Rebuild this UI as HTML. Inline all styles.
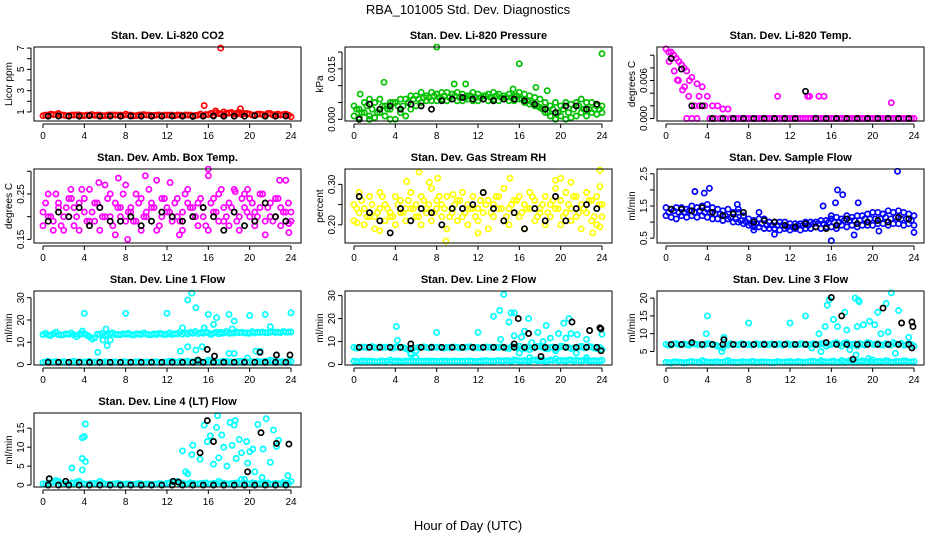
<!DOCTYPE html>
<html><head><meta charset="utf-8"><style>
body{margin:0;background:#fff}
svg{display:block;font-family:"Liberation Sans",sans-serif}
</style></head><body>
<svg id="c" width="936" height="540">
<text x="468" y="14" text-anchor="middle" font-size="13">RBA_101005  Std. Dev. Diagnostics</text>
<text x="468" y="530" text-anchor="middle" font-size="13">Hour of Day (UTC)</text>
</svg>
<script>
const HH=[0,0.5,1,1.5,2,2.5,3,3.5,4,4.5,5,5.5,6,6.5,7,7.5,8,8.5,9,9.5,10,10.5,11,11.5,12,12.5,13,13.5,14,14.5,15,15.5,16,16.5,17,17.5,18,18.5,19,19.5,20,20.5,21,21.5,22,22.5,23,23.5,24];
const HQ=[0.25,0.75,1.25,1.75,2.25,2.75,3.25,3.75,4.25,4.75,5.25,5.75,6.25,6.75,7.25,7.75,8.25,8.75,9.25,9.75,10.25,10.75,11.25,11.75,12.25,12.75,13.25,13.75,14.25,14.75,15.25,15.75,16.25,16.75,17.25,17.75,18.25,18.75,19.25,19.75,20.25,20.75,21.25,21.75,22.25,22.75,23.25,23.75];
const H24=[0.5,1.5,2.5,3.5,4.5,5.5,6.5,7.5,8.5,9.5,10.5,11.5,12.5,13.5,14.5,15.5,16.5,17.5,18.5,19.5,20.5,21.5,22.5,23.5];

const co2A=[0.65,0.7,0.75,0.85,0.7,0.65,0.7,0.72,0.65,0.7,0.68,0.7,0.65,0.72,0.7,0.7,0.8,0.7,0.65,0.72,0.7,0.68,0.7,0.65,0.7,0.7,0.72,0.66,0.7,0.65,0.7,0.68,0.75,0.7,0.85,0.75,0.9,0.8,0.95,0.85,0.8,0.7,0.8,0.7,0.85,0.75,0.7,0.8,0.55];
const co2Q=[0.7,0.8,0.75,0.7,0.65,0.7,0.72,0.68,0.7,0.75,0.7,0.65,0.7,0.72,0.7,0.68,0.7,0.65,0.7,0.75,0.7,0.68,0.72,0.7,0.7,0.65,0.7,0.72,0.7,0.68,0.8,0.75,0.85,0.9,0.8,0.85,0.95,0.8,0.75,0.85,0.7,0.8,0.75,0.85,0.7,0.8,0.75,0.7];
const co2Black=[0.6,0.62,0.6,0.6,0.65,0.6,0.62,0.6,0.62,0.6,0.6,0.6,0.62,0.6,0.58,0.6,0.62,0.6,0.6,0.6,0.65,0.6,0.6,0.62];
const co2OutX=[17.2,15.6,19.1,16.7,17.5,18.8];
const co2OutY=[7.0,1.6,1.3,1.1,1.0,0.9];

const presA=[.004,.003,.005,.006,.005,.006,.004,.005,.005,.006,.006,.007,.007,.008,.007,.008,.0075,.008,.008,.0075,.008,.0075,.007,.008,.0075,.007,.0075,.008,.0075,.007,.0075,.007,.008,.0075,.007,.0065,.006,.005,.004,.005,.004,.005,.0045,.005,.006,.005,.005,.004,.004];
const presB=[.001,.0005,.002,.001,.0005,.002,.001,.003,.000,.002,.001,.003,.004,.005,.0055,.0055,.0055,.006,.0055,.006,.0055,.0055,.006,.0055,.0055,.006,.0055,.006,.0055,.006,.0055,.0055,.006,.005,.0045,.004,.0035,.002,.001,.000,.001,.000,.0005,.001,.002,.001,.002,.0015,.002];
const presQ=[.003,.002,.004,.003,.002,.004,.003,.005,.004,.004,.005,.006,.006,.0065,.0065,.007,.0065,.007,.0065,.007,.0065,.0065,.007,.0065,.0065,.007,.0065,.007,.0065,.0065,.0065,.007,.006,.0055,.005,.004,.003,.002,.003,.002,.003,.002,.003,.004,.003,.003,.003,.003];
const presBlack=[.000,.0045,.003,.004,.003,.0045,.004,.003,.0055,.006,.0065,.006,.006,.0055,.006,.006,.0055,.0045,.003,.002,.004,.004,.003,.0045];
const presOutX=[8,16,24,2.9,9.7,10.8,17.6,0.6,15.4,18.7,1.5,3.5];
const presOutY=[.0215,.0165,.0195,.011,.0105,.0105,.0095,.0075,.009,.0085,.0,.0];

const tempA=[.011,.0105,.0095,.0085,.0075,.0065,.0055,.005,.0035,.002,.002,.0015,.0015,0,0,0,0,0,0,0,0,0,0,0,0,0,0,0,0,0,0,0,0,0,0,0,0,0,0,0,0,0,0,0,0,0,0,0,0];
const tempQ=[.0105,.01,.009,.008,.006,.002,.002,.002,0,0,0,0,0,0,0,0,0,0,0,0,0,0,0,0,0,0,0,0,0,0,0,0,0,0,0,0,0,0,0,0,0,0,0,0,0,0,0,0];
const tempBlack=[.0095,.0078,.002,.002,0,0,0,0,0,0,0,0,0,.0043,0,0,0,0,0,0,0,0,0,0];
const tempOutX=[0.3,0.8,1.2,1.8,2.2,2.0,2.5,3.0,10.8,13.7,13.9,14.8,15.3,21.8,3.2,1.1,1.6];
const tempOutY=[.009,.0075,.006,.005,.0035,0,0,0,.0035,.0035,.0035,.0035,.0035,.0025,.0035,.0061,.0045];

const ambA=[.21,.25,.19,.22,.2,.24,.18,.23,.21,.26,.19,.22,.2,.25,.23,.2,.27,.22,.19,.24,.21,.23,.28,.2,.22,.19,.24,.21,.26,.2,.23,.22,.29,.21,.25,.19,.23,.26,.2,.22,.24,.21,.25,.19,.23,.2,.22,.28,.21];
const ambB=[.18,.2,.17,.23,.17,.2,.22,.17,.24,.19,.23,.17,.27,.2,.16,.22,.19,.21,.25,.17,.2,.22,.17,.24,.21,.19,.2,.17,.23,.22,.18,.2,.17,.24,.19,.22,.18,.21,.17,.25,.2,.18,.22,.16,.2,.24,.18,.21,.19];
const ambQ=[.23,.2,.25,.18,.22,.24,.2,.26,.19,.21,.23,.2,.24,.18,.22,.25,.21,.19,.23,.2,.26,.22,.18,.24,.21,.23,.19,.25,.22,.2,.24,.18,.23,.21,.26,.2,.22,.19,.24,.21,.23,.2,.25,.22,.19,.24,.21,.23];
const ambBlack=[.19,.21,.2,.22,.18,.22,.19,.19,.2,.18,.19,.21,.2,.19,.2,.22,.2,.17,.21,.18,.19,.23,.2,.19];
const ambOutX=[16,8.2,13.2,7.3,9.9,5.4,2.7,19.8,23.8,23.8,12.3,18.6,22.9];
const ambOutY=[.305,.15,.16,.285,.29,.275,.26,.26,.165,.185,.275,.255,.28];

const rhA=[.25,.28,.24,.27,.22,.28,.25,.23,.27,.26,.24,.28,.25,.27,.24,.29,.26,.25,.27,.24,.26,.28,.25,.27,.24,.28,.26,.25,.27,.29,.24,.26,.27,.25,.28,.26,.24,.27,.25,.29,.26,.28,.24,.27,.25,.28,.26,.27,.25];
const rhB=[.21,.23,.2,.22,.19,.24,.21,.22,.2,.23,.21,.24,.22,.2,.23,.21,.24,.22,.19,.23,.21,.22,.2,.24,.21,.23,.19,.22,.24,.21,.2,.23,.22,.19,.24,.21,.23,.2,.22,.24,.2,.23,.21,.22,.19,.23,.21,.2,.22];
const rhQ=[.24,.26,.22,.25,.23,.27,.24,.22,.25,.23,.26,.24,.22,.26,.25,.23,.27,.24,.22,.25,.26,.23,.24,.22,.26,.25,.23,.27,.24,.22,.25,.26,.23,.24,.27,.22,.25,.23,.26,.24,.22,.25,.27,.23,.24,.26,.22,.25];
const rhBlack=[.27,.23,.21,.18,.24,.21,.24,.23,.2,.24,.24,.25,.28,.24,.21,.23,.19,.24,.21,.27,.21,.24,.25,.24];
const rhOutX=[6.3,5.1,8.1,19.5,20,15.1,0.3,2.5,8.9,16.5,23.1,9.6,21,12,23.8,23.8,23.8,7.3];
const rhOutY=[.33,.307,.315,.31,.315,.315,.205,.185,.16,.19,.18,.275,.305,.18,.335,.295,.195,.305];

const flowA=[1.45,1.4,1.45,1.45,1.4,1.5,1.45,1.5,1.4,1.45,1.4,1.35,1.4,1.3,1.3,1.2,1.1,1.05,1.1,1.1,1.0,1.0,1.0,1.0,0.95,0.95,0.95,1.0,1.0,1.0,1.05,1.05,1.1,1.15,1.1,1.2,1.15,1.2,1.2,1.25,1.3,1.3,1.25,1.35,1.3,1.35,1.3,1.25,1.2];
const flowB=[1.2,1.15,1.1,1.2,1.15,1.2,1.15,1.2,1.15,1.1,1.1,1.05,1.1,1.0,1.0,0.95,0.9,0.85,0.85,0.8,0.8,0.8,0.75,0.8,0.75,0.8,0.75,0.8,0.8,0.85,0.8,0.85,0.85,0.8,0.9,0.85,0.9,0.85,0.9,0.9,0.9,0.95,0.95,0.9,0.95,0.95,0.9,0.95,0.9];
const flowQ=[1.3,1.35,1.3,1.3,1.35,1.3,1.35,1.3,1.3,1.25,1.25,1.2,1.15,1.1,1.05,1.0,0.95,0.95,0.95,0.9,0.9,0.9,0.9,0.85,0.85,0.9,0.9,0.9,0.95,0.95,0.95,1.0,1.0,1.0,1.05,1.05,1.05,1.05,1.1,1.1,1.1,1.1,1.15,1.1,1.15,1.1,1.1,1.05];
const flowBlack=[1.4,1.4,1.35,1.45,1.3,1.2,1.25,1.3,1.0,1.05,1.0,0.9,0.85,0.95,0.85,0.8,0.9,1.1,0.95,1.0,1.05,1.0,1.15,1.1];
const flowOutX=[2.8,3.7,4.2,22.4,16.6,17.1,16.0,24,16.4,18.6,7,10.5,9,4,8.5,18.2,20.6,15.2,6.9,16];
const flowOutY=[1.95,1.9,2.05,2.58,2.0,1.85,0.42,0.68,1.6,1.6,1.4,0.62,1.3,1.55,0.75,0.6,0.72,1.5,1.55,1.2];

const l1A=[13.5,13.2,13.8,13.5,13.4,13.6,13.3,13.5,13.8,12.5,12,13.5,13,13.8,13.5,13.4,13.6,13.5,13.7,13.5,13.6,13.4,13.5,13.7,13.6,13.5,13.8,13.6,13.7,14,13.9,14,14.2,14,13.8,14.2,14,14.1,14.3,14.1,14,14.2,14.4,14.3,14.5,14.4,14.3,14.5,14.6];
const l1B=[1,1.5,1.2,1,1.3,1,1.5,1.2,1,1.4,1.2,1,1.2,1,1.2,1,1.1,1,1.2,1,1.1,1,1.2,1,1.2,1.5,1,1.3,1.5,1.2,1.5,1,2,1.5,1,1.5,1.2,1,1.5,1,1.2,1,1.3,1.5,2,1.5,1.2,1,1.5];
const l1Q=[14,13,14.5,13.2,13.8,14.2,12.5,13.8,13.2,11.5,13.6,14,13.2,14.2,13.5,13.8,14,13.2,13.8,14.2,13.4,13.8,14,13.5,14.2,13.8,14.5,14.2,14.5,14.8,14.3,14.6,13.5,14.5,14,14.8,14.2,14.6,14.5,14.2,14.8,14.5,14.6,14.3,14.7,14.5,14.8,14.6];
const l1Q2=[1.2,1,1.3,1.1,1,1.2,1,1.1,1.3,1,1.2,1,1.1,1.2,1,1.3,1,1.1,1.2,1,1.1,1.3,1,1.2,1.5,1.2,1.5,1.3,1.2,1.5,1.3,1.2,1.5,1.2,1.3,1.5,1.2,1.3,1.5,1.2,1.3,1.5,1.2,1.3,1.5,1.2,1.3,1.5];
const l1Black=[1,1,1,1,1,1,1,1,1,1,1,1,1,1,1,1,1,1,1,1,1,1,1,1];
const l1OutX=[4,8,12,24,14.4,14,14.8,16,18,20,21.5,16.8,16.5,18.5,13.5,15.6,22,6.2,5.3,13.3,14,15.4,14.8,18,18.5,20.6,21,6.5,5.8,6.1,3.8,19.8,17.2,18.3];
const l1OutY=[23,23,23,23.2,32,29,25.5,22.5,22.5,22,22.5,21,18,19.5,16.5,16.5,17,8.5,5.5,6,8,8,6.5,5,5,6,6,11,11,16,15,3,14.5,16];
const l1BlkX=[15.9,16.6,21,22.6,23.9,15];
const l1BlkY=[6.8,3.8,5.5,4.3,4.3,2];

const l2A=[7.5,7.3,7.6,7.5,7.4,7.6,7.5,7.4,7.6,7.5,7,5,6,7.5,7.4,7.6,7.5,7.4,7.5,7.6,7.5,7.4,7.6,7.5,7.4,7.5,7.6,7.5,7.4,7.5,7,7.6,8,7,6.5,7.5,8,7,7.5,6.5,8,7.5,7,7.5,8,7.5,7.6,7,6.5];
const l2B=[1.5,1.2,1.6,1.5,1.3,1.5,1.4,2,1.5,1.3,1.6,1.5,1.4,1.5,1.6,1.5,1.4,1.5,1.6,1.5,1.4,1.5,1.6,1.5,1.4,1.5,1.6,1.5,1.8,1.5,1.6,2,1.5,1.8,1.5,2,1.8,1.5,2,2.5,1.8,1.5,2,1.8,1.5,2,1.6,1.5,1.8];
const l2Q=[7.2,7.6,7.4,7.8,7.3,7.5,7.6,7.2,7.5,7.4,6.5,7.2,7.4,7.7,7.3,7.5,7.6,7.2,7.4,7.6,7.3,7.5,7.7,7.4,7.3,7.6,7.4,7.5,7.7,7.2,7.8,7.3,6.8,7.6,7.2,7.8,7.4,6.8,7.6,7.2,7.8,7.4,7.2,7.6,7.3,7.8,7.2,7.5];
const l2Q2=[1.3,1.6,1.4,1.5,1.2,1.6,1.5,1.4,1.6,1.3,1.5,1.4,1.6,1.3,1.5,1.6,1.4,1.5,1.3,1.6,1.5,1.4,1.6,1.3,1.5,1.7,1.4,1.6,1.5,1.8,1.4,1.7,1.6,1.5,1.9,1.6,1.7,1.5,1.8,1.6,1.7,1.9,1.6,1.7,1.8,1.6,1.7,1.6];
const l2Black=[7.5,7.5,7.5,7.5,7.5,7,7.5,7.5,7.5,7.5,7.5,7.5,7.5,7.5,7.5,7.5,7.5,7.5,7.5,7.5,7.5,7.5,7.5,7.5];
const l2OutX=[14.5,14.1,15.5,15.2,13.5,16.9,20.3,20.8,18.6,15,16.5,17.8,19.8,21,21.6,24,4.1,4.2,8,12,14.2,15.5,16.2,19,20.5,22.5,18.3,17.2,16,19.5,21.5,5.5,6,22.5,17,18.2];
const l2OutY=[30.5,23.5,22.5,22.5,21,20,18,20,17,18.5,14.5,14,13.5,13.5,13,13.2,16.5,10.5,14,14,11,12.5,12,11.5,11.5,11,10,9.5,5,6,5,4.5,3,3,3,2];
const l2BlkX=[15.9,16.9,21.1,22.8,23.8,23.9,18.1,15.5,5.5,23.9];
const l2BlkY=[20,13.5,18.5,14.8,16,15.5,3.5,9,9,6];

const l3A=[7,6.8,7.2,7,6.9,7.1,7,6.8,7.2,7,6.5,6,6.8,7,6.9,7.1,7,6.9,7,7.1,7,6.9,7.1,7,6.9,7,7.1,7,6.9,7,7.2,6.5,7,7.5,6.5,7.5,7,6.5,7,7.5,7,7.2,6.8,7,7.5,7,6.8,7.2,6.5];
const l3B=[2,1.8,2.1,2,1.9,2.2,2,2.5,2,1.9,2.1,2,2.5,2,1.9,2.1,2,2.2,2,2.1,2,1.9,2.1,2,2.2,2,2.1,2,2.2,2,2.4,2,2.2,2,2.5,2,2.2,2,2.4,2,2.6,2.2,2,2.3,2,2.2,2.4,2,2.2];
const l3Q=[6.8,7.2,6.9,7.1,6.8,7.2,7,6.9,7.1,6.8,6.2,7,7.2,6.9,7.1,7,6.8,7.2,7,6.9,7.1,7,6.8,7.2,7,6.9,7.1,7,7.2,6.9,7.3,6.8,7.2,6.9,7.3,6.8,7.1,7.2,6.8,7.3,7,6.9,7.2,6.8,7.1,7.3,6.9,7];
const l3Q2=[1.9,2.1,2,1.8,2.1,2,1.9,2.2,2,2.1,1.9,2.2,2,1.9,2.1,2,2.2,1.9,2.1,2,1.9,2.2,2,2.1,2,2.2,1.9,2.1,2.3,2,2.2,2.1,2.3,2,2.2,2.4,2.1,2.2,2,2.3,2.1,2.2,2.4,2,2.2,2.1,2.3,2.1];
const l3Black=[7,7,7.5,7,7,7,7,7,7,7,7,7,7,7,7,7.5,7,7,7,7,7,7,7,7];
const l3OutX=[4,8,12,13.5,15.8,15.6,16.2,17.3,18.3,18.6,18.7,21.8,21.3,22.5,20.5,19.7,20.2,19.1,18.5,17.5,16.6,15.4,14.8,20.8,21.5,23.5,17.8,18.4,22.2,15,14.1,5.6,3.9,5.4,19.6];
const l3OutY=[15,13,13,15,19.5,18,14,16,20,19.5,19,21.5,18.5,16.5,16,13.5,12.5,12.5,12,11,12,12,10,10,10.5,9,5.5,4,4.5,5,6,9,10,5,3];
const l3BlkX=[16,21,17,22.8,23.8,23.9,18.1,23.8,5.6];
const l3BlkY=[20.2,17.2,15,13,13.3,12,2.8,6,8.3];

const l4A=[0.3,0.5,0.8,1,0.3,0.2,0.5,1,0.3,0.3,0.5,1,0.3,0.2,0.3,0.3,0.3,0.2,0.3,0.3,0.3,0.2,0.3,0.3,0.5,0.8,1,0.5,0.3,0.5,0.3,0.5,0.3,0.5,1,0.5,0.3,0.5,0.3,0.5,0.3,0.5,0.3,0.5,0.3,0.5,0.3,0.5,1];
const l4Q=[0.2,0.6,1.2,0.4,0.3,0.6,0.8,0.3,0.2,0.4,0.3,0.6,0.2,0.3,0.4,0.2,0.3,0.2,0.4,0.2,0.3,0.2,0.4,0.2,0.6,0.9,0.4,0.3,0.6,0.3,0.4,0.6,0.3,0.4,0.6,0.3,0.4,0.6,0.3,0.4,0.6,0.3,0.4,0.6,0.3,0.4,0.7,0.5];
const l4Black=[0,0,0,0,0,0,0,0,0,0,0,0,0,0,0,0,0,0,0,0,0,0,0,0];
const l4OutX=[3.8,4,4.1,3.8,4.1,3.8,2.8,13.5,13.8,14,14.5,15.2,15.6,15.9,16.2,16.8,16.9,17,17.3,17.8,18.1,18.3,18.5,18.6,18.7,19,19.2,19.7,19.8,20,20.3,20.5,20.8,21.3,21.6,22,22.3,22.6,22.8,14.4,16.5,17.5,19.5,19.2,21.2,23.7,5.5];
const l4OutY=[12.5,12.8,16.1,7,6.2,4,4.5,9,3.5,3,10.5,6.8,15.8,11.5,13,15.2,18.3,7.2,13.2,5,16.5,10.5,15.8,17,7,12,8.5,11.5,5.8,8.8,9.5,3.5,16,9.5,17.5,6,14.5,10.2,11.8,8,5.5,10,1.5,1.5,2,2.5,1];
const l4BlkX=[0.6,2.2,12.6,13.1,15.2,15.9,16.5,19.8,21.1,22.6,23.8];
const l4BlkY=[1.7,1,1,0.8,8.5,17,11.5,3.5,13.8,11,10.8];

const cols=[34,345,657];const W=267;const rows=[47,169,291,413];const HGT=74;
const NS='http://www.w3.org/2000/svg';const svg=document.getElementById('c');
function mk(t,a,p){const e=document.createElementNS(NS,t);for(const k in a)e.setAttribute(k,a[k]);(p||svg).appendChild(e);return e;}

function panel(id,title,ylab,col,row,y0,y1,ticks,labels,series){
  const L=cols[col],T=rows[row];
  const g=mk('g',{});
  
  
  const xs=h=>L+9+h*(W-19)/24;
  const ys=v=>T+HGT-(v-y0)/(y1-y0)*HGT;
  const tt=mk('text',{x:L+W/2,y:T-8,'text-anchor':'middle','font-size':'11','font-weight':'bold'},g);tt.textContent=title;
  
  
  const cl=mk('clipPath',{id:'cp'+id},g);mk('rect',{x:L,y:T-3,width:W,height:HGT+6},cl);
  const pg=mk('g',{'clip-path':'url(#cp'+id+')'},g);
  series.forEach(s=>{
    for(let i=0;i<s.y.length;i++){
      const c=mk('circle',{cx:xs(s.x[i]).toFixed(1),cy:ys(s.y[i]).toFixed(1),r:2.6,fill:'none',stroke:s.c,'stroke-width':1.7},pg);
      
      
    }
  });
  const b=mk('rect',{x:L,y:T,width:W,height:HGT,fill:'none',stroke:'#000','stroke-width':1},g);
  
  
  const ax=T+HGT+3;
  mk('line',{x1:xs(0),x2:xs(24),y1:ax,y2:ax,stroke:'#000'},g);
  [0,4,8,12,16,20,24].forEach(h=>{
    mk('line',{x1:xs(h),x2:xs(h),y1:ax,y2:ax+4,stroke:'#000'},g);
    const t=mk('text',{x:xs(h),y:ax+15,'text-anchor':'middle','font-size':'10'},g);t.textContent=h;
    
    
  });
  const lx=L-3;
  mk('line',{x1:lx,x2:lx,y1:ys(ticks[0]),y2:ys(ticks[ticks.length-1]),stroke:'#000'},g);
  ticks.forEach((v,i)=>{
    mk('line',{x1:lx-4,x2:lx,y1:ys(v),y2:ys(v),stroke:'#000'},g);
    if(labels[i]){const t=mk('text',{x:lx-7,y:ys(v),'text-anchor':'middle','font-size':'10',transform:'rotate(-90 '+(lx-7)+' '+ys(v)+')'},g);t.textContent=labels[i];
    
    }
  });
  const yl=mk('text',{x:L-22,y:T+HGT/2,'text-anchor':'middle','font-size':'10',transform:'rotate(-90 '+(L-22)+' '+(T+HGT/2)+')'},g);yl.textContent=ylab;
  
  
}
const K='#000';
panel('co2','Stan. Dev. Li-820 CO2','Licor ppm',0,0,0.15,7.1,[1,2,3,4,5,6,7],['1','','3','','5','','7'],
 [{x:HH,y:co2A,c:'#f00',n:'co2-point'},{x:HQ,y:co2Q,c:'#f00',n:'co2-point'},{x:co2OutX,y:co2OutY,c:'#f00',n:'co2-point'},{x:H24,y:co2Black,c:K,n:'co2-black-point'}]);
panel('pressure','Stan. Dev. Li-820 Pressure','kPa',1,0,-0.0005,0.0215,[0,.005,.01,.015,.02],['0.000','','','0.015',''],
 [{x:HH,y:presA,c:'#00c000',n:'pressure-point'},{x:HH,y:presB,c:'#00c000',n:'pressure-point'},{x:HQ,y:presQ,c:'#00c000',n:'pressure-point'},{x:presOutX,y:presOutY,c:'#00c000',n:'pressure-point'},{x:H24,y:presBlack,c:K,n:'pressure-black-point'}]);
panel('temp','Stan. Dev. Li-820 Temp.','degrees C',2,0,-0.0004,0.0113,[0,.002,.004,.006,.008,.01],['0.000','','','0.006','',''],
 [{x:HH,y:tempA,c:'#f0f',n:'temp-point'},{x:HQ,y:tempQ,c:'#f0f',n:'temp-point'},{x:tempOutX,y:tempOutY,c:'#f0f',n:'temp-point'},{x:H24,y:tempBlack,c:K,n:'temp-black-point'}]);
panel('ambbox','Stan. Dev. Amb. Box Temp.','degrees C',0,1,0.142,0.305,[.15,.2,.25,.3],['0.15','','0.25',''],
 [{x:HH,y:ambA,c:'#f0f',n:'ambbox-point'},{x:HH,y:ambB,c:'#f0f',n:'ambbox-point'},{x:HQ,y:ambQ,c:'#f0f',n:'ambbox-point'},{x:ambOutX,y:ambOutY,c:'#f0f',n:'ambbox-point'},{x:H24,y:ambBlack,c:K,n:'ambbox-black-point'}]);
panel('rh','Stan. Dev. Gas Stream RH','percent',1,1,0.155,0.338,[.2,.25,.3],['0.20','','0.30'],
 [{x:HH,y:rhA,c:'#ff0',n:'rh-point'},{x:HH,y:rhB,c:'#ff0',n:'rh-point'},{x:HQ,y:rhQ,c:'#ff0',n:'rh-point'},{x:rhOutX,y:rhOutY,c:'#ff0',n:'rh-point'},{x:H24,y:rhBlack,c:K,n:'rh-black-point'}]);
panel('sampleflow','Stan. Dev. Sample Flow','ml/min',2,1,0.35,2.65,[.5,1,1.5,2,2.5],['0.5','','1.5','','2.5'],
 [{x:HH,y:flowA,c:'#00f',n:'sampleflow-point'},{x:HH,y:flowB,c:'#00f',n:'sampleflow-point'},{x:HQ,y:flowQ,c:'#00f',n:'sampleflow-point'},{x:flowOutX,y:flowOutY,c:'#00f',n:'sampleflow-point'},{x:H24,y:flowBlack,c:K,n:'sampleflow-black-point'}]);
panel('line1','Stan. Dev. Line 1 Flow','ml/min',0,2,-0.2,33,[0,10,20,30],['0','10','20','30'],
 [{x:HH,y:l1A,c:'#0ff',n:'line1-point'},{x:HH,y:l1B,c:'#0ff',n:'line1-point'},{x:HQ,y:l1Q,c:'#0ff',n:'line1-point'},{x:HQ,y:l1Q2,c:'#0ff',n:'line1-point'},{x:l1OutX,y:l1OutY,c:'#0ff',n:'line1-point'},{x:H24,y:l1Black,c:K,n:'line1-black-point'},{x:l1BlkX,y:l1BlkY,c:K,n:'line1-black-point'}]);
panel('line2','Stan. Dev. Line 2 Flow','ml/min',1,2,-0.2,32,[0,10,20,30],['0','10','20','30'],
 [{x:HH,y:l2A,c:'#0ff',n:'line2-point'},{x:HH,y:l2B,c:'#0ff',n:'line2-point'},{x:HQ,y:l2Q,c:'#0ff',n:'line2-point'},{x:HQ,y:l2Q2,c:'#0ff',n:'line2-point'},{x:l2OutX,y:l2OutY,c:'#0ff',n:'line2-point'},{x:H24,y:l2Black,c:K,n:'line2-black-point'},{x:l2BlkX,y:l2BlkY,c:K,n:'line2-black-point'}]);
panel('line3','Stan. Dev. Line 3 Flow','ml/min',2,2,1.2,22,[5,10,15,20],['5','10','15','20'],
 [{x:HH,y:l3A,c:'#0ff',n:'line3-point'},{x:HH,y:l3B,c:'#0ff',n:'line3-point'},{x:HQ,y:l3Q,c:'#0ff',n:'line3-point'},{x:HQ,y:l3Q2,c:'#0ff',n:'line3-point'},{x:l3OutX,y:l3OutY,c:'#0ff',n:'line3-point'},{x:H24,y:l3Black,c:K,n:'line3-black-point'},{x:l3BlkX,y:l3BlkY,c:K,n:'line3-black-point'}]);
panel('line4','Stan. Dev. Line 4 (LT) Flow','ml/min',0,3,-0.5,19,[0,5,10,15],['0','5','10','15'],
 [{x:HH,y:l4A,c:'#0ff',n:'line4-point'},{x:HQ,y:l4Q,c:'#0ff',n:'line4-point'},{x:l4OutX,y:l4OutY,c:'#0ff',n:'line4-point'},{x:H24,y:l4Black,c:K,n:'line4-black-point'},{x:l4BlkX,y:l4BlkY,c:K,n:'line4-black-point'}]);
</script>
</body></html>
